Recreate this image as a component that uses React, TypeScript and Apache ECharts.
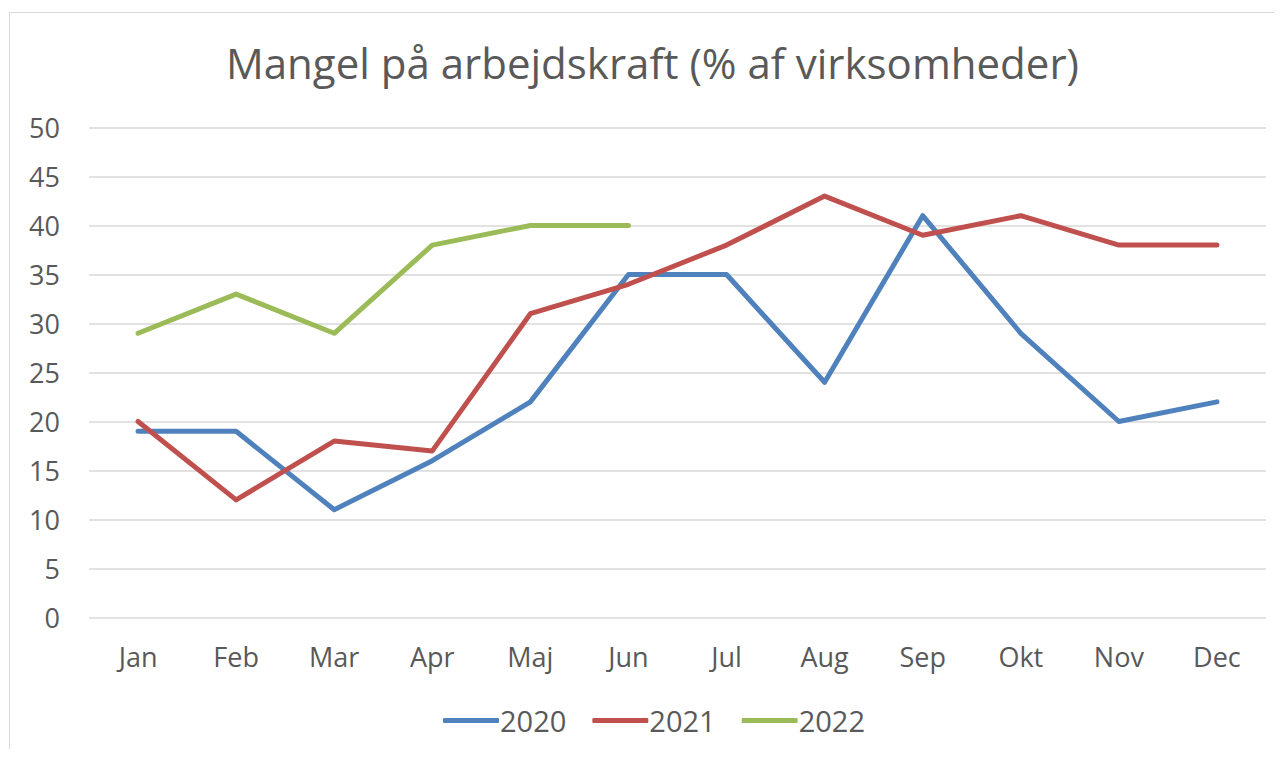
import React, { useEffect, useRef } from "react";
import * as echarts from "echarts";

const months = ["Jan", "Feb", "Mar", "Apr", "Maj", "Jun", "Jul", "Aug", "Sep", "Okt", "Nov", "Dec"];
const s2020 = [19, 19, 11, 16, 22, 35, 35, 24, 41, 29, 20, 22];
const s2021 = [20, 12, 18, 17, 31, 34, 38, 43, 39, 41, 38, 38];
const s2022 = [29, 33, 29, 38, 40, 40];
const seriesNames = ["2020", "2021", "2022"];
const colors = ["#4F81BD", "#C0504D", "#9BBB59"];
const titleText = "Mangel på arbejdskraft (% af virksomheder)";

export default function App() {
  const ref = useRef<HTMLDivElement>(null);
  useEffect(() => {
    const chart = echarts.init(ref.current!, null, { renderer: "svg" });
    const font = "'Open Sans', 'Liberation Sans', sans-serif";
    const data = [s2020, s2021, s2022];
    chart.setOption({
      animation: false,
      backgroundColor: "#ffffff",
      textStyle: { fontFamily: font },
      title: {
        text: titleText,
        left: 213,
        top: 28,
        textStyle: { fontFamily: font, fontSize: 42, fontWeight: "normal", color: "#595959" },
      },
      graphic: [
        {
          type: "rect",
          shape: { x: 1.5, y: 4.5, width: 1400, height: 900 },
          style: { fill: "none", stroke: "#d9d9d9", lineWidth: 1 },
          silent: true,
        },
      ],
      legend: {
        bottom: 9,
        left: 430,
        itemWidth: 56,
        itemHeight: 5,
        itemGap: 26,
        icon: "roundRect",
        data: seriesNames,
        textStyle: { fontFamily: font, fontSize: 29, color: "#595959", padding: [0, 0, 0, -4] },
      },
      grid: { left: 81, right: 8, top: 119.5, bottom: 131.5, containLabel: false },
      xAxis: {
        type: "category",
        data: months,
        boundaryGap: true,
        axisLine: { show: false },
        axisTick: { show: false },
        axisLabel: { fontFamily: font, fontSize: 27, color: "#595959", margin: 25 },
      },
      yAxis: {
        type: "value",
        min: 0,
        max: 50,
        interval: 5,
        axisLine: { show: false },
        axisTick: { show: false },
        splitLine: { lineStyle: { color: "#d9d9d9", width: 1.5 } },
        axisLabel: { fontFamily: font, fontSize: 27, color: "#595959", margin: 29 },
      },
      series: seriesNames.map((n, i) => ({
        name: n,
        type: "line",
        data: data[i],
        symbol: "none",
        color: colors[i],
        lineStyle: { width: 5, color: colors[i], cap: "round", join: "round" },
      })),
    });
    return () => chart.dispose();
  }, []);
  return <div ref={ref} style={{ width: 1266, height: 741 }} />;
}
